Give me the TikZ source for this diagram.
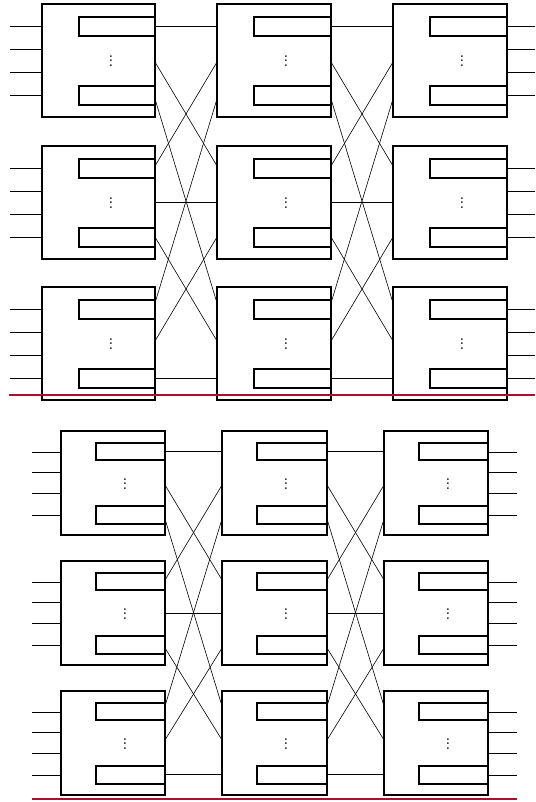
\documentclass[tikz,border=0pt]{standalone}
\definecolor{redrule}{RGB}{170,15,45}
\newcommand\colvdots{\vbox{\baselineskip4.6pt\lineskiplimit0pt\hbox{.}\hbox{.}\hbox{.}}}
\tikzset{
  swbox/.style={draw, line width=1.4pt, anchor=north west, inner sep=0pt, outer sep=0pt},
  inrect/.style={draw, line width=1.1pt},
  wire/.style={line width=0.6pt},
  rrule/.style={draw=redrule, line width=1.4pt},
  dotsnode/.style={inner sep=0pt, font=\fontsize{12}{12}\selectfont\bfseries}
}
\begin{document}
\begin{tikzpicture}[x=1pt,y=-1pt]
\useasboundingbox (0,0) rectangle (535,802);
% ---------------- top half ----------------
\foreach \c/\L/\R in {1/42/155,2/217/331,3/393/507}{
  \foreach \r/\T in {1/4,2/146,3/287}{
    \node[swbox, minimum width=\R-\L, minimum height=113] (t\c\r) at (\L,\T) {};
    \draw[inrect] (\L+37,\T+13) rectangle (\R,\T+32);
    \draw[inrect] (\L+37,\T+82) rectangle (\R,\T+101);
    \node[dotsnode] (td\c\r) at (\L+69,\T+57) {\colvdots};
  }
}
% ports (top half)
\foreach \r/\a/\b/\d in {1/26/62/99,2/166/202/237,3/303/341/378}{
  \foreach \c/\L/\R in {1/42/155,2/217/331,3/393/507}{
    \coordinate (tl\c\r1) at (\L,\a); \coordinate (tl\c\r2) at (\L,\b); \coordinate (tl\c\r3) at (\L,\d);
    \coordinate (tr\c\r1) at (\R,\a); \coordinate (tr\c\r2) at (\R,\b); \coordinate (tr\c\r3) at (\R,\d);
  }
}
\foreach \i in {1,2,3}{
  \foreach \j in {1,2,3}{
    \draw[wire] (tr1\i\j) -- (tl2\j\i);
    \draw[wire] (tr2\i\j) -- (tl3\j\i);
  }
}
% inputs and outputs (top half)
\foreach \r/\T in {1/4,2/146,3/287}{
  \foreach \k/\o in {1/22,2/45,3/68,4/91}{
    \coordinate (tin\r\k) at (10,\T+\o);
    \coordinate (tout\r\k) at (535,\T+\o);
    \draw[wire] (tin\r\k) -- (tin\r\k -| t1\r.west);
    \draw[wire] (tout\r\k -| t3\r.east) -- (tout\r\k);
  }
}
\coordinate (tra) at (9,395); \coordinate (trb) at (535,395);
\draw[rrule] (tra) -- (trb);
% ---------------- bottom half ----------------
\foreach \c/\L/\R in {1/61/165,2/222/327,3/384/488}{
  \foreach \r/\T in {1/431,2/561,3/691}{
    \node[swbox, minimum width=\R-\L, minimum height=104] (b\c\r) at (\L,\T) {};
    \draw[inrect] (\L+35,\T+12) rectangle (\R,\T+29);
    \draw[inrect] (\L+35,\T+75) rectangle (\R,\T+93);
    \node[dotsnode] (bd\c\r) at (\L+64,\T+53) {\colvdots};
  }
}
\foreach \r/\a/\b/\d in {1/451/485/519,2/580/613/648,3/706/740/774}{
  \foreach \c/\L/\R in {1/61/165,2/222/327,3/384/488}{
    \coordinate (bl\c\r1) at (\L,\a); \coordinate (bl\c\r2) at (\L,\b); \coordinate (bl\c\r3) at (\L,\d);
    \coordinate (br\c\r1) at (\R,\a); \coordinate (br\c\r2) at (\R,\b); \coordinate (br\c\r3) at (\R,\d);
  }
}
\foreach \i in {1,2,3}{
  \foreach \j in {1,2,3}{
    \draw[wire] (br1\i\j) -- (bl2\j\i);
    \draw[wire] (br2\i\j) -- (bl3\j\i);
  }
}
\foreach \r/\T in {1/431,2/561,3/691}{
  \foreach \k/\o in {1/21,2/41,3/62,4/84}{
    \coordinate (bin\r\k) at (32,\T+\o);
    \coordinate (bout\r\k) at (517,\T+\o);
    \draw[wire] (bin\r\k) -- (bin\r\k -| b1\r.west);
    \draw[wire] (bout\r\k -| b3\r.east) -- (bout\r\k);
  }
}
\coordinate (bra) at (32,799); \coordinate (brb) at (517,799);
\draw[rrule] (bra) -- (brb);
\end{tikzpicture}
\end{document}
